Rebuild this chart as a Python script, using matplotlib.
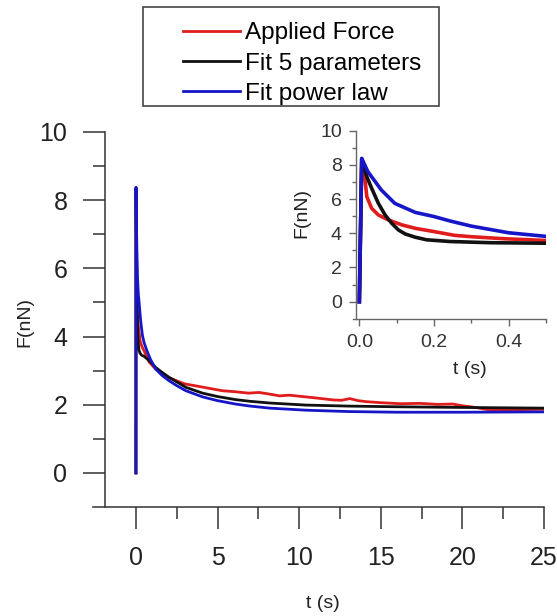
import matplotlib
matplotlib.use("Agg")
import matplotlib.pyplot as plt
from matplotlib.patches import Rectangle
from matplotlib.ticker import MultipleLocator, FixedLocator

plt.rcParams['font.family'] = ['Liberation Sans', 'DejaVu Sans']

t_red = [0, 0.0064, 0.0153, 0.02, 0.033, 0.051, 0.078, 0.114, 0.15, 0.2, 0.255, 0.3, 0.39, 0.5,
         0.8, 1.2, 1.6, 2.0, 2.5, 3.0, 3.7, 4.5, 5.3, 6.1, 6.9, 7.55, 8.2, 8.8, 9.4, 10.2, 11.0,
         12.1, 12.6, 13.1, 13.6, 14.1, 15.0, 16.2, 17.4, 18.5, 19.4, 20.0, 20.8, 21.5,
         22.3, 23.1, 24.0, 25.0]
F_red = [0, 8.35, 7.12, 6.14, 5.46, 5.07, 4.78, 4.49, 4.29, 4.10, 3.88, 3.80, 3.68, 3.58,
         3.26, 3.05, 2.92, 2.80, 2.70, 2.61, 2.55, 2.48, 2.41, 2.38, 2.34, 2.36, 2.31, 2.26, 2.28, 2.24, 2.20,
         2.14, 2.13, 2.18, 2.12, 2.09, 2.06, 2.03, 2.04, 2.01, 2.02, 1.97, 1.92, 1.86,
         1.85, 1.85, 1.86, 1.87]

# 5 parameter fit
t_blk = [0, 0.0064, 0.02, 0.033, 0.051, 0.069, 0.087, 0.105, 0.123, 0.15, 0.18, 0.243, 0.35, 0.5,
         0.8, 1.22, 1.6, 2.04, 2.5, 3.06, 4.08, 5.0, 6.1, 7.0, 8.2, 10.4, 13.0, 16.0, 20.0, 25.0]
F_blk = [0, 8.35, 7.31, 6.63, 5.75, 5.07, 4.58, 4.19, 3.96, 3.77, 3.62, 3.52, 3.45, 3.42,
         3.30, 3.09, 2.95, 2.80, 2.67, 2.51, 2.34, 2.24, 2.15, 2.10, 2.05, 1.99, 1.96, 1.94, 1.92, 1.90]

# power law fit
t_blu = [0, 0.0064, 0.023, 0.059, 0.095, 0.15, 0.2, 0.243, 0.3, 0.4, 0.5,
         0.7, 0.9, 1.22, 1.6, 2.04, 2.5, 3.06, 4.08, 5.0, 6.1, 7.0, 8.2, 10.4, 13.0, 16.0, 20.0, 25.0]
F_blu = [0, 8.38, 7.60, 6.53, 5.75, 5.22, 4.98, 4.72, 4.42, 4.03, 3.82,
         3.55, 3.32, 3.04, 2.86, 2.70, 2.56, 2.41, 2.23, 2.12, 2.02, 1.96, 1.90, 1.84, 1.80, 1.78, 1.78, 1.79]

labels = ["Applied Force", "Fit 5 parameters", "Fit power law"]
red = "#e01c1c"
blk = "#111111"
blu = "#1616c8"
axc = "#333333"

fig = plt.figure(figsize=(5.57, 6.16), dpi=100)

# main plot
ax = fig.add_axes([0.16697, 0.17695, 0.80970, 0.60877])
l1, = ax.plot(t_red, F_red, color=red, lw=2.0)
l2, = ax.plot(t_blk, F_blk, color=blk, lw=2.0)
l3, = ax.plot(t_blu, F_blu, color=blu, lw=2.0)
ax.set_xlim(-2.63, 25)
ax.set_ylim(-1, 10)
ax.spines['top'].set_visible(False)
ax.spines['right'].set_visible(False)
ax.spines['left'].set_position(('data', -1.9))
for s in ['left', 'bottom']:
    ax.spines[s].set_color(axc)
    ax.spines[s].set_linewidth(1.1)
ax.set_xticks([0, 5, 10, 15, 20, 25])
ax.xaxis.set_minor_locator(FixedLocator([2.5, 7.5, 12.5, 17.5, 22.5]))
ax.yaxis.set_major_locator(MultipleLocator(2))
ax.yaxis.set_minor_locator(FixedLocator([1, 3, 5, 7, 9]))
ax.tick_params(which='major', direction='out', length=16, width=1.1, color=axc,
               labelsize=18, labelcolor='#222222')
ax.tick_params(which='minor', direction='out', length=8.5, width=1.1, color=axc)
ax.tick_params(axis='y', which='major', pad=11)
ax.tick_params(axis='x', which='major', pad=12)

fig.text(25 / 557, 1 - 322 / 616, "F(nN)", rotation=90, ha='center', va='center',
         fontsize=14, color='#222222')
fig.text(323 / 557, 1 - 603 / 616, "t (s)", ha='center', va='center',
         fontsize=14, color='#222222')

# inset
ins = fig.add_axes([0.63375, 0.48247, 0.3465, 0.30536])
ins.patch.set_alpha(0)
ins.plot(t_red, F_red, color=red, lw=2.6)
ins.plot(t_blk, F_blk, color=blk, lw=2.6)
ins.plot(t_blu, F_blu, color=blu, lw=2.6)
ins.set_xlim(-0.017, 0.5)
ins.set_ylim(-1, 10)
ins.spines['top'].set_visible(False)
ins.spines['right'].set_visible(False)
ins.spines['left'].set_position(('data', -0.0097))
for s in ['left', 'bottom']:
    ins.spines[s].set_color('#666666')
    ins.spines[s].set_linewidth(1.0)
ins.set_xticks([0.0, 0.2, 0.4])
ins.set_xticklabels(["0.0", "0.2", "0.4"])
ins.xaxis.set_minor_locator(FixedLocator([0.1, 0.3, 0.5]))
ins.yaxis.set_major_locator(MultipleLocator(2))
ins.yaxis.set_minor_locator(FixedLocator([1, 3, 5, 7, 9]))
ins.tick_params(which='major', direction='out', length=5, width=1.0, color='#666666',
                labelsize=14, labelcolor='#333333')
ins.tick_params(which='minor', direction='out', length=3, width=1.0, color='#666666')
ins.tick_params(axis='y', which='major', pad=5)
ins.tick_params(axis='x', which='major', pad=6)

fig.text(302 / 557, 1 - 213 / 616, "F(nN)", rotation=90, ha='center', va='center',
         fontsize=14, color='#222222')
fig.text(470 / 557, 1 - 370 / 616, "t (s)", ha='center', va='center',
         fontsize=14, color='#222222')

# legend box and entries
fig.patches.append(Rectangle((143 / 557, 1 - 106 / 616), 296 / 557, 99 / 616,
                             transform=fig.transFigure, fill=False,
                             edgecolor='#444444', lw=1.2))
fig.legend([l1, l2, l3], labels, loc='center left',
           bbox_to_anchor=(183 / 557, 1 - 63.5 / 616), frameon=False,
           fontsize=17.5, handlelength=2.35, handletextpad=0.2, labelspacing=0.34,
           borderpad=0, borderaxespad=0)

fig.savefig("out.png", dpi=100)
